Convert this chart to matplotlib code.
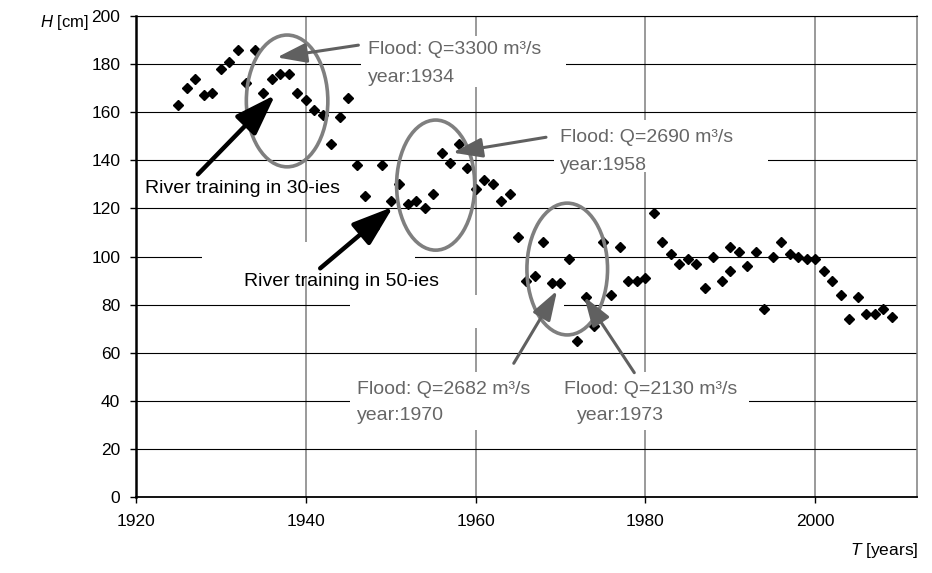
import matplotlib
matplotlib.use('Agg')
import matplotlib.pyplot as plt
from matplotlib.patches import Ellipse, Rectangle

plt.rcParams['font.family'] = ['Liberation Sans', 'DejaVu Sans']
plt.rcParams['mathtext.fontset'] = 'custom'
plt.rcParams['mathtext.it'] = 'Liberation Sans:italic'
plt.rcParams['mathtext.rm'] = 'Liberation Sans'

# water level readings (year, H in cm)
years = [1925, 1926, 1927, 1928, 1929, 1930, 1931, 1932, 1933, 1934,
         1935, 1936, 1937, 1938, 1939, 1940, 1941, 1942, 1943, 1944,
         1945, 1946, 1947, 1948, 1949, 1950, 1951, 1952, 1953, 1954,
         1955, 1956, 1957, 1958, 1959, 1960, 1961, 1962, 1963, 1964,
         1965, 1966, 1967, 1968, 1969, 1970, 1971, 1972, 1973, 1974,
         1975, 1976, 1977, 1978, 1979, 1980, 1981, 1982, 1983, 1984,
         1985, 1986, 1987, 1988, 1989, 1990, 1990, 1991, 1992, 1993,
         1994, 1995, 1996, 1997, 1998, 1999, 2000, 2001, 2002, 2003,
         2004, 2005, 2006, 2007, 2008, 2009]
level = [163, 170, 174, 167, 168, 178, 181, 186, 172, 186,
         168, 174, 176, 176, 168, 165, 161, 159, 147, 158,
         166, 138, 125, 112, 138, 123, 130, 122, 123, 120,
         126, 143, 139, 147, 137, 128, 132, 130, 123, 126,
         108, 90, 92, 106, 89, 89, 99, 65, 83, 71,
         106, 84, 104, 90, 90, 91, 118, 106, 101, 97,
         99, 97, 87, 100, 90, 104, 94, 102, 96, 102,
         78, 100, 106, 101, 100, 99, 99, 94, 90, 84,
         74, 83, 76, 76, 78, 75]

x_ticks = [1920, 1940, 1960, 1980, 2000]
y_ticks = list(range(0, 201, 20))

grey = '#7f7f7f'
text_grey = '#666666'

fig = plt.figure(figsize=(9.32, 5.73), dpi=100)
ax = fig.add_axes([0.1459, 0.1326, 0.8380, 0.8394])

ax.set_xlim(1920, 2012)
ax.set_ylim(0, 200)
ax.set_xticks(x_ticks)
ax.set_yticks(y_ticks)
ax.tick_params(axis='both', labelsize=12.5, direction='out', length=4.3, width=1)
ax.tick_params(axis='x', pad=8)
ax.tick_params(axis='y', pad=7)

ax.set_axisbelow(True)
ax.yaxis.grid(True, color='black', linewidth=0.8)
ax.xaxis.grid(True, color=grey, linewidth=1.1)
ax.spines['left'].set_linewidth(1.8)
ax.spines['bottom'].set_linewidth(1.3)
ax.spines['top'].set_linewidth(0.8)
ax.spines['right'].set_color(grey)
ax.spines['right'].set_linewidth(1.1)

# white text-box backgrounds hiding parts of the grid
for x0, y0, w, h in [(1946.5, 170.5, 24.1, 21.2), (1969.2, 135.1, 25.2, 21.7),
                     (1927.8, 91.5, 25.1, 14.5), (1945.2, 70.3, 25.2, 13.7),
                     (1945.2, 27.9, 47.0, 24.1)]:
    ax.add_patch(Rectangle((x0, y0), w, h, facecolor='white', edgecolor='none', zorder=1))

ax.plot(years, level, linestyle='none', marker='D', markersize=5.4,
        color='black', zorder=3)

# ellipses marking the flood events
for cx, cy, w, h in [(1937.8, 164.7, 9.6, 54.8), (1955.3, 129.7, 9.2, 54.1),
                     (1970.8, 94.8, 9.5, 54.8)]:
    ax.add_patch(Ellipse((cx, cy), w, h, fill=False, edgecolor=grey,
                         linewidth=2.6, zorder=4))

# black arrows: river training
black_arrow = dict(arrowstyle='-|>,head_length=1.4,head_width=0.48',
                   mutation_scale=18, color='black', linewidth=3.2,
                   shrinkA=0, shrinkB=0)
ax.annotate('', xy=(1936.4, 167.2), xytext=(1927.3, 134.2),
            arrowprops=black_arrow, zorder=5)
ax.annotate('', xy=(1950.3, 120.7), xytext=(1941.7, 95.1),
            arrowprops=black_arrow, zorder=5)

# grey arrows: floods
grey_arrow = dict(arrowstyle='-|>,head_length=1.2,head_width=0.4',
                  mutation_scale=15, color='#606060', linewidth=2.2,
                  shrinkA=0, shrinkB=0)
ax.annotate('', xy=(1936.6, 182.8), xytext=(1946.2, 187.9),
            arrowprops=grey_arrow, zorder=5)
ax.annotate('', xy=(1957.3, 143.2), xytext=(1968.3, 149.6),
            arrowprops=grey_arrow, zorder=5)
ax.annotate('', xy=(1969.6, 85.8), xytext=(1964.5, 55.6),
            arrowprops=grey_arrow, zorder=5)
ax.annotate('', xy=(1972.8, 83.3), xytext=(1978.7, 51.7),
            arrowprops=grey_arrow, zorder=5)

fs = 14
ax.text(1921.1, 128.1, 'River training in 30-ies', fontsize=fs, va='center', zorder=6)
ax.text(1932.7, 89.5, 'River training in 50-ies', fontsize=fs, va='center', zorder=6)

ax.text(1947.3, 186.2, 'Flood: Q=3300 m³/s', fontsize=fs, color=text_grey, va='center', zorder=6)
ax.text(1947.3, 174.5, 'year:1934', fontsize=fs, color=text_grey, va='center', zorder=6)
ax.text(1969.9, 149.6, 'Flood: Q=2690 m³/s', fontsize=fs, color=text_grey, va='center', zorder=6)
ax.text(1969.9, 138.0, 'year:1958', fontsize=fs, color=text_grey, va='center', zorder=6)
ax.text(1946.0, 44.8, 'Flood: Q=2682 m³/s', fontsize=fs, color=text_grey, va='center', zorder=6)
ax.text(1946.0, 34.1, 'year:1970', fontsize=fs, color=text_grey, va='center', zorder=6)
ax.text(1970.4, 44.8, 'Flood: Q=2130 m³/s', fontsize=fs, color=text_grey, va='center', zorder=6)
ax.text(1971.9, 34.1, 'year:1973', fontsize=fs, color=text_grey, va='center', zorder=6)

fig.text(40 / 932, 1 - 22 / 573, '$H$ [cm]', fontsize=12, ha='left', va='center')
fig.text(918 / 932, 1 - 551 / 573, '$T$ [years]', fontsize=12.5, ha='right', va='center')

fig.savefig('out.png', dpi=100)
